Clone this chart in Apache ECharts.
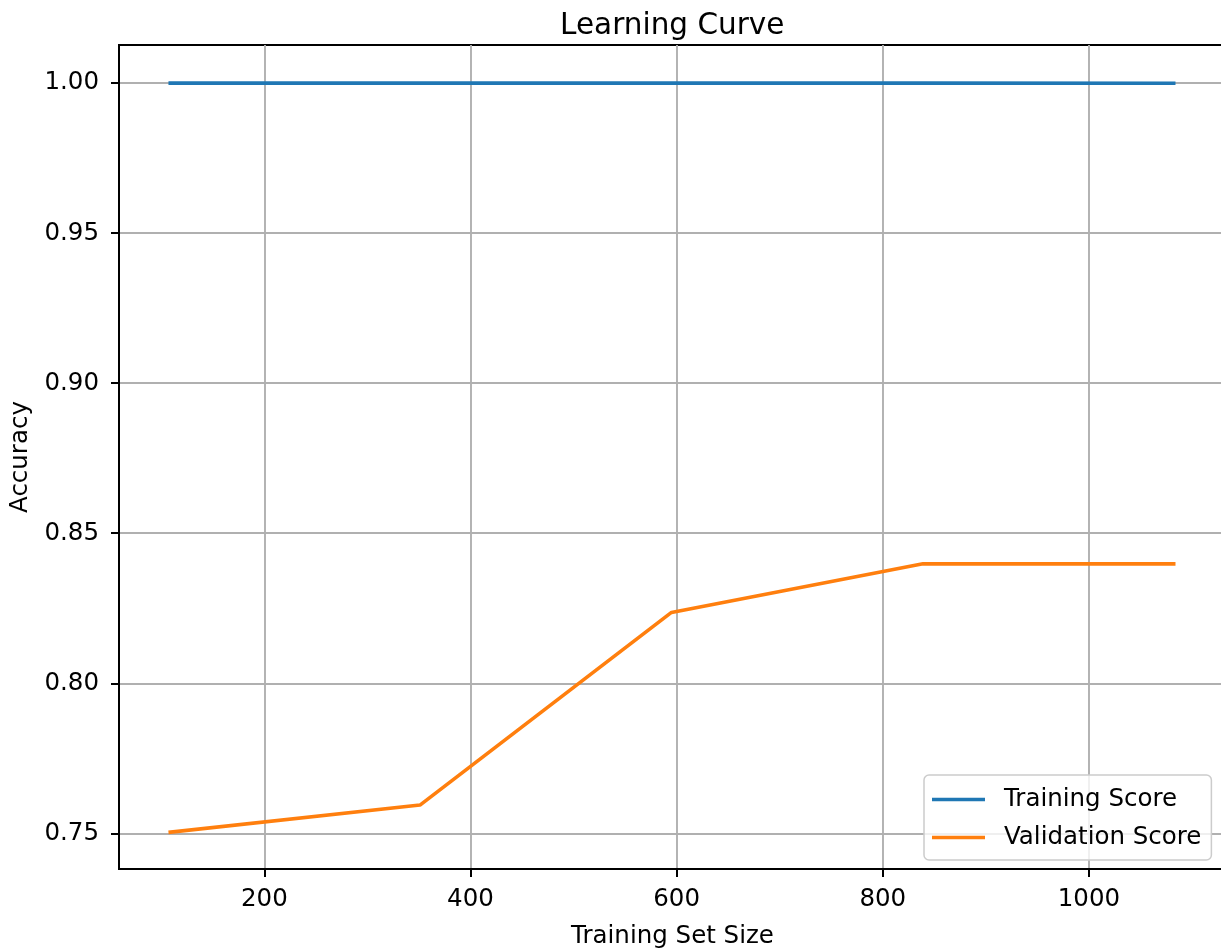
<!DOCTYPE html>
<html>
<head>
<meta charset="utf-8">
<script src="https://cdn.jsdelivr.net/npm/echarts@6/dist/echarts.min.js"></script>
<style>
html,body{margin:0;padding:0;background:#fff;}
#chart{width:1221px;height:950px;}
</style>
</head>
<body>
<div id="chart"></div>
<script>
const trainSizes = [107, 351, 595, 839, 1084];
const trainingScore = [1.0, 1.0, 1.0, 1.0, 0.99995];
const validationScore = [0.7503, 0.7594, 0.8236, 0.8398, 0.8398];
const xTicks = [200, 400, 600, 800, 1000];
const yTicks = [0.75, 0.80, 0.85, 0.90, 0.95, 1.00];

const font = 'DejaVu Sans';
const chart = echarts.init(document.getElementById('chart'), null, {renderer: 'canvas'});
chart.setOption({
  backgroundColor: '#ffffff',
  animation: false,
  title: {
    text: 'Learning Curve',
    left: 555, top: 6,
    textStyle: {fontFamily: font, fontSize: 29.5, fontWeight: 'normal', color: '#000'}
  },
  grid: {left: 119, right: -5, top: 45, bottom: 81, outerBoundsMode: 'none', containLabel: false,
    show: true, borderColor: '#000', borderWidth: 2, backgroundColor: 'transparent'},
  legend: {
    orient: 'vertical', left: 924, top: 775,
    backgroundColor: 'rgba(255,255,255,0.8)', borderColor: '#cccccc', borderWidth: 1.5, borderRadius: 5,
    padding: [12, 10, 10, 8], itemGap: 13, itemWidth: 53, itemHeight: 3.6, icon: 'rect',
    textStyle: {fontFamily: font, fontSize: 24.5, color: '#000', lineHeight: 24, padding: [0, 0, 0, 14]},
    data: ['Training Score', 'Validation Score']
  },
  xAxis: {
    type: 'value', min: 59, max: 1133,
    name: 'Training Set Size', nameLocation: 'middle', nameGap: 55,
    nameTextStyle: {fontFamily: font, fontSize: 24.5, color: '#000'},
    axisLine: {show: true, onZero: false, lineStyle: {color: '#000', width: 2}},
    axisTick: {show: true, length: 8, lineStyle: {color: '#000', width: 2}, customValues: xTicks},
    axisLabel: {fontFamily: font, fontSize: 24.5, color: '#000', margin: 18, customValues: xTicks,
      formatter: v => String(v)},
    splitLine: {show: true, lineStyle: {color: '#b0b0b0', width: 1.9}}
  },
  yAxis: {
    type: 'value', min: 0.7381, max: 1.0127,
    name: 'Accuracy', nameLocation: 'middle', nameGap: 84, nameRotate: 90,
    nameTextStyle: {fontFamily: font, fontSize: 24.5, color: '#000'},
    axisLine: {show: true, onZero: false, lineStyle: {color: '#000', width: 2}},
    axisTick: {show: true, length: 8, lineStyle: {color: '#000', width: 2}, customValues: yTicks},
    axisLabel: {fontFamily: font, fontSize: 24.5, color: '#000', margin: 20, customValues: yTicks,
      formatter: v => v.toFixed(2)},
    splitLine: {show: true, lineStyle: {color: '#b0b0b0', width: 1.9}}
  },
  series: [
    {name: 'Training Score', type: 'line', data: trainSizes.map((x, i) => [x, trainingScore[i]]),
     showSymbol: false, symbol: 'none', color: '#1f77b4', lineStyle: {width: 3.6, color: '#1f77b4'}, z: 3},
    {name: 'Validation Score', type: 'line', data: trainSizes.map((x, i) => [x, validationScore[i]]),
     showSymbol: false, symbol: 'none', color: '#ff7f0e', lineStyle: {width: 3.6, color: '#ff7f0e'}, z: 3}
  ]
});
</script>
</body>
</html>
